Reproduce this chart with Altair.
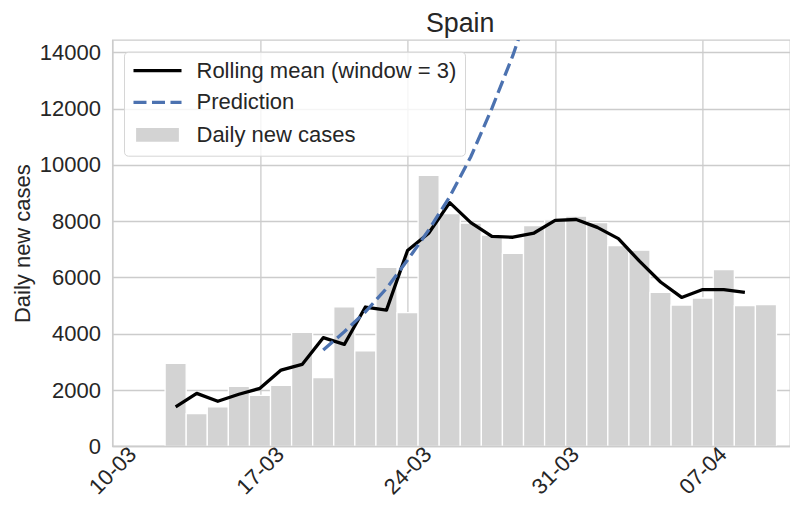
import altair as alt
import pandas as pd

# ---- data ----
bar_dates = pd.date_range("2020-03-13", "2020-04-10", freq="D")
bar_values = [2950, 1160, 1400, 2130, 1810, 2170, 4050, 2440, 4960, 3390,
              6360, 4750, 9630, 8270, 7930, 7510, 6860, 7840, 8050, 8180,
              7950, 7130, 6970, 5470, 5020, 5270, 6280, 5000, 5040]

roll_dates = pd.date_range("2020-03-13", "2020-04-09", freq="D")
roll_values = [1400, 1880, 1600, 1850, 2060, 2710, 2910, 3860, 3620, 4950,
               4840, 6960, 7570, 8660, 7950, 7460, 7430, 7580, 8030, 8060,
               7780, 7380, 6580, 5840, 5290, 5570, 5570, 5470]

pred_dates = pd.date_range("2020-03-20", "2020-03-30", freq="D")
pred_values = [3420, 4070, 4780, 5610, 6620, 7680, 8870, 10290, 12010, 13900, 16100]

series_names = ["Rolling mean (window = 3)", "Prediction", "Daily new cases"]
y_ticks = [0, 2000, 4000, 6000, 8000, 10000, 12000, 14000]
y_max = 14440

FONT = "Liberation Sans"
TXT = "#262626"
GRID = "#cccccc"
BAR = "#d3d3d3"
BLUE = "#4c72b0"
FS = 22

bars_df = pd.DataFrame({
    "start": bar_dates - pd.Timedelta(hours=12),
    "end": bar_dates + pd.Timedelta(hours=12),
    "value": bar_values,
})
roll_df = pd.DataFrame({"date": roll_dates, "value": roll_values})
pred_df = pd.DataFrame({"date": pred_dates, "value": pred_values})
legend_df = pd.DataFrame({"series": series_names})
zero_df = pd.DataFrame({"y": [0]})

x_scale = alt.Scale(domain=[alt.DateTime(year=2020, month=3, date=10),
                            alt.DateTime(year=2020, month=4, date=11, hours=3, minutes=22)])
y_scale = alt.Scale(domain=[0, y_max], nice=False)

x_axis = alt.Axis(
    values=[alt.DateTime(year=2020, month=3, date=10),
            alt.DateTime(year=2020, month=3, date=17),
            alt.DateTime(year=2020, month=3, date=24),
            alt.DateTime(year=2020, month=3, date=31),
            alt.DateTime(year=2020, month=4, date=7)],
    format="%d-%m", labelAngle=-45, labelAlign="center", labelBaseline="middle",
    labelFontSize=FS, ticks=False, domain=False, title=None,
    labelPadding=24, grid=True, gridColor=GRID, gridWidth=1.3,
)
y_axis = alt.Axis(
    values=y_ticks, format="d", title="Daily new cases", titleFontSize=FS,
    titleFontWeight="normal", labelFontSize=FS, ticks=False, domain=False,
    labelPadding=12, titlePadding=5, grid=True, gridColor=GRID, gridWidth=1.3,
)

bars = alt.Chart(bars_df).mark_rect(fill=BAR, stroke="white", strokeWidth=1.3).encode(
    x=alt.X("start:T", scale=x_scale, axis=x_axis),
    x2="end:T",
    y=alt.Y("value:Q", scale=y_scale, axis=y_axis),
    y2=alt.datum(0),
)

roll = alt.Chart(roll_df).mark_line(color="black", strokeWidth=3.3, strokeJoin="round").encode(
    x=alt.X("date:T", scale=x_scale),
    y=alt.Y("value:Q", scale=y_scale),
)

pred = alt.Chart(pred_df).mark_line(color=BLUE, strokeWidth=3.3, strokeDash=[13, 5.5], clip=True).encode(
    x=alt.X("date:T", scale=x_scale),
    y=alt.Y("value:Q", scale=y_scale),
)

base_line = alt.Chart(zero_df).mark_rule(color=GRID, strokeWidth=1.3).encode(
    y=alt.Y("y:Q", scale=y_scale),
)

leg = alt.Legend(
    title=None, orient="none", legendX=11.6, legendY=11.7, padding=8, rowPadding=9.6,
    symbolSize=196, symbolStrokeWidth=3.3, symbolOffset=14.5, labelOffset=28,
    labelFontSize=FS, labelFont=FONT, labelColor=TXT, labelLimit=400,
    fillColor="rgba(255,255,255,0.8)", strokeColor="#d6d6d6", cornerRadius=4,
    symbolOpacity=1,
)
line_path = "M-3.43,0H3.43"
rect_path = "M-2.82,-0.75H2.82V0.75H-2.82Z"

legend_layer = alt.Chart(legend_df).mark_point(clip=True, strokeWidth=3.3).encode(
    x=alt.value(-200), y=alt.value(-200),
    stroke=alt.Stroke("series:N", scale=alt.Scale(domain=series_names, range=["black", BLUE, BAR]), legend=leg),
    fill=alt.Fill("series:N", scale=alt.Scale(domain=series_names, range=["transparent", "transparent", BAR]), legend=leg),
    shape=alt.Shape("series:N", scale=alt.Scale(domain=series_names, range=[line_path, line_path, rect_path]), legend=leg),
    strokeDash=alt.StrokeDash("series:N", scale=alt.Scale(domain=series_names, range=[[1, 0], [13, 5.5], [1, 0]]), legend=leg),
)

chart = alt.layer(bars, base_line, roll, pred, legend_layer).properties(
    width=677.6, height=406.3,
    title=alt.TitleParams("Spain", fontSize=26.8, font=FONT, color=TXT, fontWeight="normal",
                          offset=2, dx=9),
    autosize=alt.AutoSizeParams(type="none"),
    padding={"left": 104.4, "top": 32, "right": 0, "bottom": 53.7},
).configure_view(stroke=GRID, strokeWidth=1.3).configure_axis(
    labelFont=FONT, titleFont=FONT, labelColor=TXT, titleColor=TXT,
)

chart.save("out.html", embed_options={"renderer": "svg", "actions": False})
